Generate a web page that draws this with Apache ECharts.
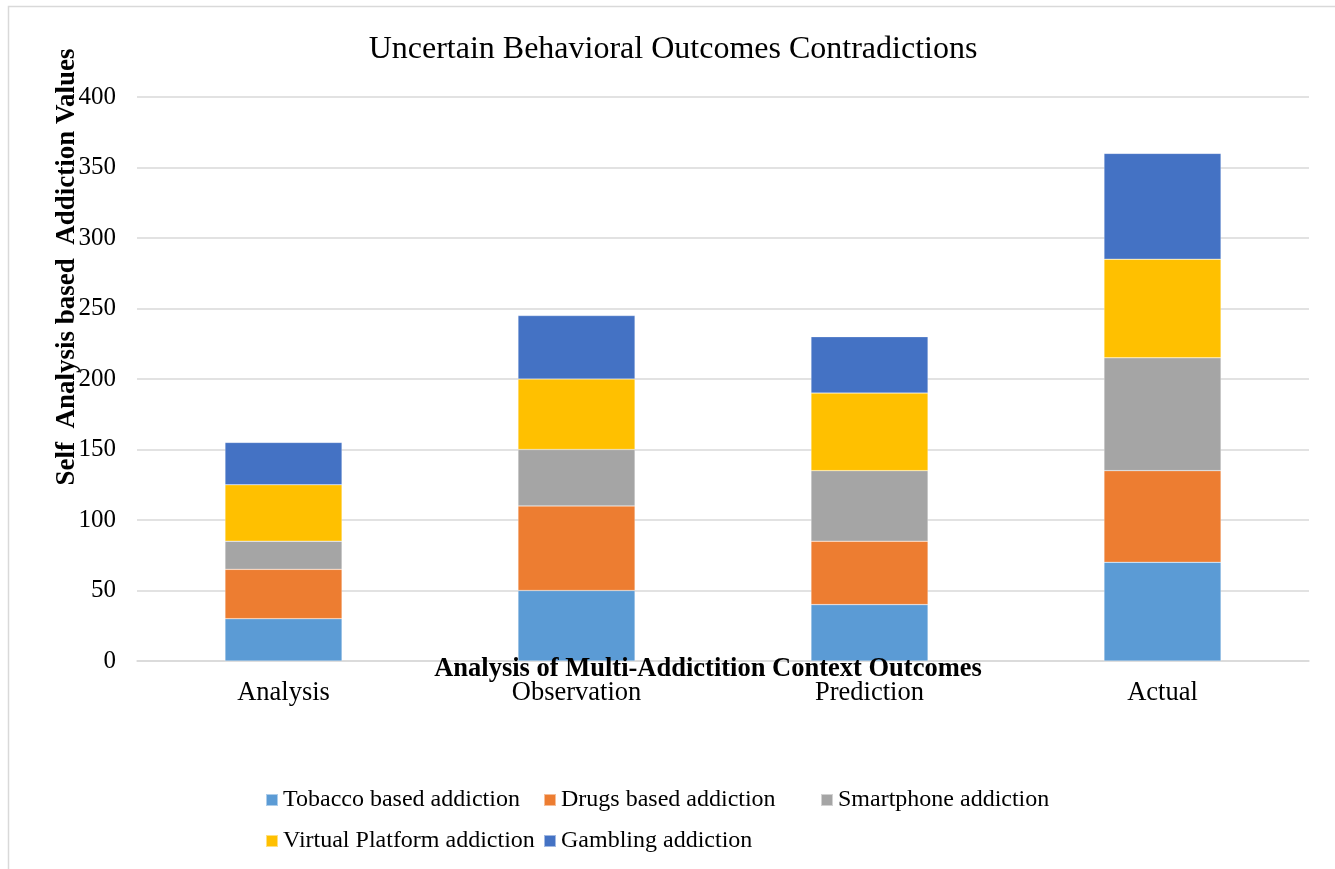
<!DOCTYPE html>
<html>
<head>
<meta charset="utf-8">
<script src="https://cdn.jsdelivr.net/npm/echarts@6/dist/echarts.min.js"></script>
<style>html,body{margin:0;padding:0;background:#fff}#c{width:1335px;height:869px}</style>
</head>
<body>
<div id="c"></div>
<script>
const categories = ['Analysis', 'Observation', 'Prediction', 'Actual'];
const seriesNames = ['Tobacco based addiction', 'Drugs based addiction', 'Smartphone addiction', 'Virtual Platform addiction', 'Gambling addiction'];
const tobacco = [30, 50, 40, 70];
const drugs = [35, 60, 45, 65];
const smartphone = [20, 40, 50, 80];
const virtualPlatform = [40, 50, 55, 70];
const gambling = [30, 45, 40, 75];
const colors = ['#5B9BD5', '#ED7D31', '#A5A5A5', '#FFC000', '#4472C4'];
const values = [tobacco, drugs, smartphone, virtualPlatform, gambling];

const FONT = '"Liberation Serif", "Times New Roman", serif';
const legendPos = [[265, 788], [543, 788], [820, 788], [265, 829], [543, 829]];

const chart = echarts.init(document.getElementById('c'), null, {renderer: 'canvas'});
chart.setOption({
  animation: false,
  textStyle: {fontFamily: FONT},
  title: {
    text: 'Uncertain Behavioral Outcomes Contradictions',
    left: 668, top: 29, textAlign: 'center',
    textStyle: {fontFamily: FONT, fontSize: 32, fontWeight: 'normal', color: '#000'}
  },
  graphic: [
    {type: 'rect', shape: {x: 8.5, y: 6.5, width: 1400, height: 1000}, style: {fill: 'none', stroke: '#d9d9d9', lineWidth: 1.5}, silent: true, z: -1},
    {type: 'text', x: 67, y: 267, rotation: Math.PI / 2,
     style: {text: 'Self  Analysis based  Addiction Values', font: 'bold 27px ' + FONT, fill: '#000', textAlign: 'center', textVerticalAlign: 'middle'}},
    {type: 'text', x: 708, y: 669, z: 10,
     style: {text: 'Analysis of Multi-Addictition Context Outcomes', font: 'bold 26.5px ' + FONT, fill: '#000', textAlign: 'center', textVerticalAlign: 'middle'}}
  ],
  legend: seriesNames.map((n, i) => ({
    data: [n], left: legendPos[i][0], top: legendPos[i][1],
    itemWidth: 12, itemHeight: 12, itemGap: 0, padding: 0,
    icon: 'rect', selectedMode: false,
    textStyle: {fontFamily: FONT, fontSize: 24, color: '#000'}
  })),
  grid: {left: 137, right: 26, top: 97, bottom: 208},
  xAxis: {
    type: 'category', data: categories,
    axisLine: {lineStyle: {color: '#d9d9d9', width: 1.5}},
    axisTick: {show: false},
    axisLabel: {fontFamily: FONT, fontSize: 26.5, color: '#000', margin: 19}
  },
  yAxis: {
    type: 'value', min: 0, max: 400, interval: 50,
    axisLine: {show: false}, axisTick: {show: false},
    splitLine: {lineStyle: {color: '#d9d9d9', width: 1.5}},
    axisLabel: {fontFamily: FONT, fontSize: 25, color: '#000', margin: 21}
  },
  series: seriesNames.map((n, i) => ({
    name: n, type: 'bar', stack: 'total', data: values[i],
    barWidth: 117,
    itemStyle: {color: colors[i], borderColor: 'rgba(255,255,255,0.5)', borderWidth: 0.5}
  }))
});
</script>
</body>
</html>
